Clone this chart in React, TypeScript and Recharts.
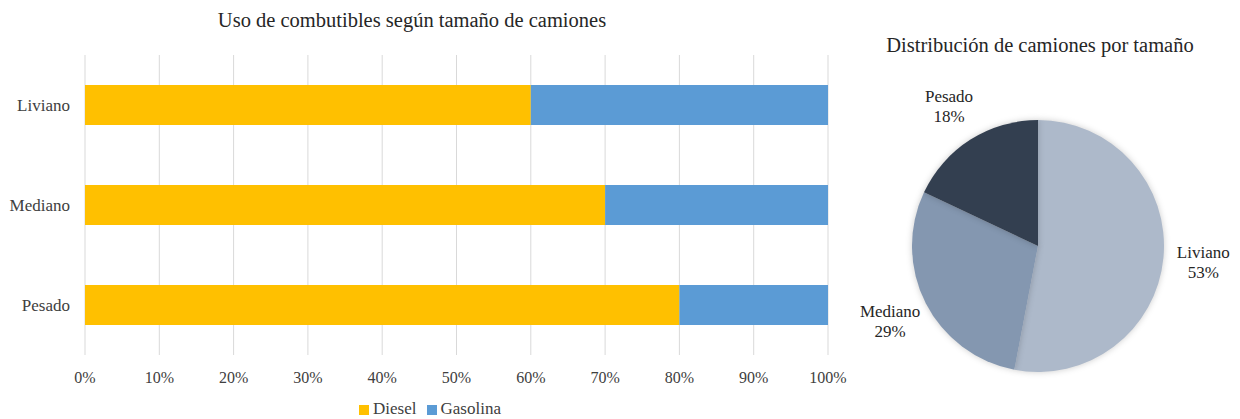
import { Bar, BarChart, CartesianGrid, Cell, Legend, Pie, PieChart, XAxis, YAxis } from "recharts"

const sizes = ["Liviano", "Mediano", "Pesado"]
const diesel = [60, 70, 80]
const gasolina = [40, 30, 20]
const xTicks = [0, 10, 20, 30, 40, 50, 60, 70, 80, 90, 100]

const pieNames = ["Liviano", "Mediano", "Pesado"]
const pieValues = [53, 29, 18]
const pieColors = ["#ADB9CA", "#8497B0", "#333F50"]

const font = "'Liberation Serif', 'Times New Roman', serif"

const barData = sizes.map((name, i) => ({ name, Diesel: diesel[i], Gasolina: gasolina[i] }))
const pieData = pieNames.map((name, i) => ({ name, value: pieValues[i] }))

const RADIAN = Math.PI / 180

function PieLabel(props: any) {
  const { cx, cy, midAngle, outerRadius, name, value } = props
  const r = outerRadius + 40
  const x = cx + r * Math.cos(-midAngle * RADIAN)
  const y = cy + r * Math.sin(-midAngle * RADIAN)
  return (
    <text x={x} y={y} textAnchor="middle" fill="#262626" fontSize={17} fontFamily={font}>
      <tspan x={x} dy={-4}>{name}</tspan>
      <tspan x={x} dy={20}>{value}%</tspan>
    </text>
  )
}

export default function App() {
  return (
    <div style={{ position: "relative", width: 1240, height: 419, background: "#fff", fontFamily: font }}>
      <style>{`body{margin:0}`}</style>
      <div style={{ position: "absolute", left: 0, width: 824, top: 9, textAlign: "center", fontSize: 20.5, color: "#262626" }}>
        Uso de combutibles según tamaño de camiones
      </div>
      <div style={{ position: "absolute", left: 860, width: 360, top: 34, textAlign: "center", fontSize: 20.5, color: "#262626" }}>
        Distribución de camiones por tamaño
      </div>

      <div style={{ position: "absolute", left: 0, top: 0 }}>
        <BarChart
          width={860}
          height={419}
          data={barData}
          layout="vertical"
          margin={{ top: 55, right: 32, left: 0, bottom: 0 }}
        >
          <CartesianGrid horizontal={false} stroke="#d9d9d9" />
          <XAxis
            type="number"
            domain={[0, 100]}
            ticks={xTicks}
            tickFormatter={(v) => `${v}%`}
            axisLine={false}
            tickLine={false}
            tickSize={0}
            tickMargin={17}
            height={44}
            tick={{ fill: "#404040", fontSize: 16, fontFamily: font }}
            interval={0}
          />
          <YAxis
            type="category"
            dataKey="name"
            width={85}
            axisLine={false}
            tickLine={false}
            tickSize={0}
            tickMargin={15}
            tick={{ fill: "#404040", fontSize: 17, fontFamily: font }}
          />
          <Legend
            verticalAlign="bottom"
            height={20}
            iconType="square"
            iconSize={10}
            wrapperStyle={{ left: 21 }}
            formatter={(v) => <span style={{ color: "#404040", fontSize: 17, fontFamily: font }}>{v}</span>}
          />
          <Bar dataKey="Diesel" stackId="a" fill="#FFC000" barSize={40} isAnimationActive={false} />
          <Bar dataKey="Gasolina" stackId="a" fill="#5B9BD5" barSize={40} isAnimationActive={false} />
        </BarChart>
      </div>

      <div style={{ position: "absolute", left: 860, top: 0 }}>
        <PieChart width={380} height={419} margin={{ top: 0, right: 0, bottom: 0, left: 0 }}>
          <Pie
            data={pieData}
            dataKey="value"
            nameKey="name"
            cx={178}
            cy={246}
            outerRadius={126}
            startAngle={90}
            endAngle={-270}
            stroke="none"
            labelLine={false}
            label={PieLabel}
            isAnimationActive={false}
            style={{ filter: "drop-shadow(0 0 3px rgba(0,0,0,0.2))" }}
          >
            {pieData.map((d, i) => (
              <Cell key={d.name} fill={pieColors[i]} />
            ))}
          </Pie>
        </PieChart>
      </div>
    </div>
  )
}
